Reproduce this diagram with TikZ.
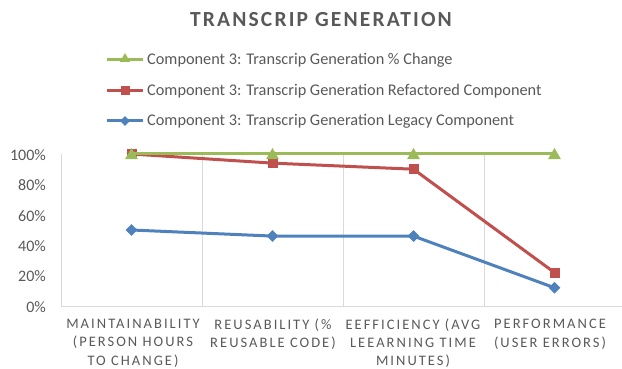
\documentclass[tikz,border=0pt]{standalone}
\usepackage{fontspec}
\setmainfont{Carlito}
\newfontfamily\spacedfont[LetterSpace=14]{Carlito}
\newfontfamily\titlefont[LetterSpace=10]{Carlito}
\usetikzlibrary{shapes.geometric}
\definecolor{txtgray}{HTML}{595959}
\definecolor{gridgray}{HTML}{D9D9D9}
\definecolor{sgreen}{HTML}{9BBB59}
\definecolor{sred}{HTML}{C0504D}
\definecolor{sblue}{HTML}{4F81BD}
\tikzset{
  ticklabel/.style={anchor=east, text=txtgray, font=\fontsize{16}{18}\selectfont, inner sep=0pt},
  catlabel/.style={anchor=center, text=txtgray, align=center, font=\spacedfont\fontsize{14.5}{18.3}\selectfont, inner sep=0pt},
  legtext/.style={anchor=west, text=txtgray, font=\fontsize{16.3}{18}\selectfont, inner sep=0pt},
  gridline/.style={draw=gridgray, line width=0.9pt},
  serline/.style={line width=3pt, line join=round, line cap=round},
  sqmark/.style={rectangle, fill=sred, minimum size=10pt, inner sep=0pt},
  dimark/.style={diamond, fill=sblue, minimum size=12pt, inner sep=0pt},
  trimark/.style={regular polygon, regular polygon sides=3, fill=sgreen, minimum size=15pt, inner sep=0pt},
}
\begin{document}
\begin{tikzpicture}[x=1pt, y=-1pt]
\useasboundingbox (0,0) rectangle (622,369);
% title
\node[text=txtgray, font=\titlefont\bfseries\fontsize{21.5}{24}\selectfont, inner sep=0pt] (title) at (321,20) {TRANSCRIP GENERATION};
% grid and axes
\coordinate (ax0) at (61,306);
\coordinate (ax1) at (622,306);
\coordinate (ay1) at (61,154);
\draw[gridline] (ax0) -- (ax1);
\draw[gridline] (ax0) -- (ay1);
\foreach \gx [count=\i] in {202,343,484} {
  \coordinate (gb\i) at (\gx,306);
  \coordinate (gt\i) at (\gx,154);
  \draw[gridline] (gb\i) -- (gt\i);
}
% y tick labels
\foreach \v [count=\i] in {0,20,40,60,80,100} {
  \node[ticklabel] (yl\i) at (46,{307-1.52*\v}) {\v\%};
}
% category labels (line centres at y = 325, 343.3, 361.6)
\node[catlabel] (c1) at (133,343.3) {MAINTAINABILITY\\(PERSON HOURS\\TO CHANGE)};
\node[catlabel] (c2) at (273,334.15) {REUSABILITY (\%\\REUSABLE CODE)};
\node[catlabel] (c3) at (413,343.3) {EEFFICIENCY (AVG\\LEEARNING TIME\\MINUTES)};
\node[catlabel] (c4) at (550,334.15) {PERFORMANCE\\(USER ERRORS)};
% legend
\coordinate (lg1a) at (107,60); \coordinate (lg1b) at (143,60);
\coordinate (lg2a) at (107,91); \coordinate (lg2b) at (143,91);
\coordinate (lg3a) at (107,121); \coordinate (lg3b) at (143,121);
\draw[serline, draw=sgreen, line cap=butt] (lg1a) -- (lg1b);
\node[trimark, minimum size=12pt] (lm1) at (125,59) {};
\node[legtext] (lt1) at (147,60) {Component 3: Transcrip Generation \% Change};
\draw[serline, draw=sred, line cap=butt] (lg2a) -- (lg2b);
\node[sqmark, minimum size=9pt] (lm2) at (125,91) {};
\node[legtext] (lt2) at (147,91) {Component 3: Transcrip Generation Refactored Component};
\draw[serline, draw=sblue, line cap=butt] (lg3a) -- (lg3b);
\node[dimark, minimum size=10pt] (lm3) at (125,121) {};
\node[legtext] (lt3) at (147,121) {Component 3: Transcrip Generation Legacy Component};
% series: legacy (blue)
\coordinate (b1) at (131.5,{306-1.52*50});
\coordinate (b2) at (272.5,{306-1.52*46});
\coordinate (b3) at (413.5,{306-1.52*46});
\coordinate (b4) at (554.5,{306-1.52*12});
\draw[serline, draw=sblue] (b1) -- (b2) -- (b3) -- (b4);
\foreach \p in {b1,b2,b3,b4} \node[dimark] (m\p) at (\p) {};
% series: refactored (red)
\coordinate (r1) at (131.5,{306-1.52*100});
\coordinate (r2) at (272.5,{306-1.52*94});
\coordinate (r3) at (413.5,{306-1.52*90});
\coordinate (r4) at (554.5,{306-1.52*22});
\draw[serline, draw=sred] (r1) -- (r2) -- (r3) -- (r4);
\foreach \p in {r1,r2,r3,r4} \node[sqmark] (m\p) at (\p) {};
% series: % change (green)
\coordinate (g1) at (131.5,{306-1.52*100});
\coordinate (g2) at (272.5,{306-1.52*100});
\coordinate (g3) at (413.5,{306-1.52*100});
\coordinate (g4) at (554.5,{306-1.52*100});
\draw[serline, draw=sgreen] (g1) -- (g2) -- (g3) -- (g4);
\foreach \p in {g1,g2,g3,g4} \node[trimark, yshift=-1.5pt] (m\p) at (\p) {};
\end{tikzpicture}
\end{document}
